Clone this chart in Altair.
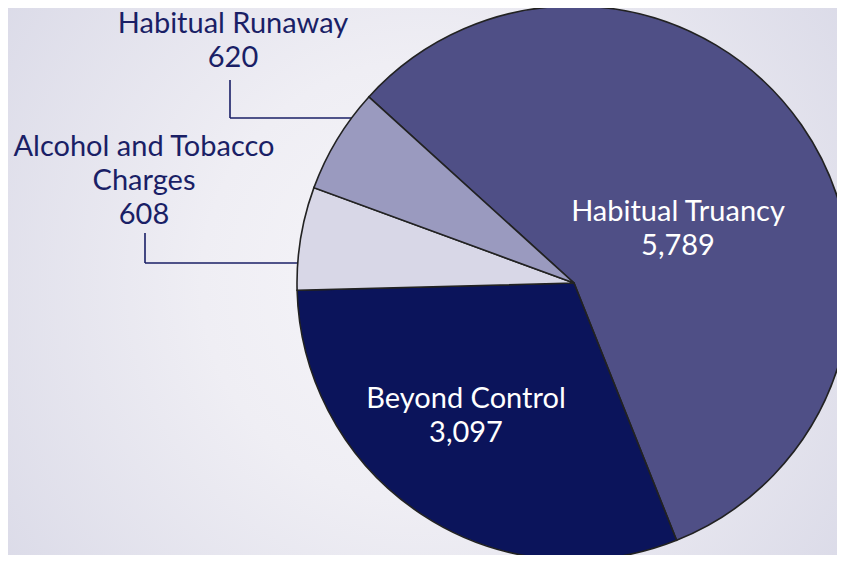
import altair as alt
import pandas as pd

categories = ["Habitual Truancy", "Beyond Control", "Alcohol and Tobacco Charges", "Habitual Runaway"]
values = [5789, 3097, 608, 620]
value_labels = ["5,789", "3,097", "608", "620"]
slice_colors = ["#4f4f86", "#0b145b", "#d8d7e7", "#9a9abf"]

W, H = 829, 547
CX, CY, R = 566, 275, 277
START = 5.449  # radians, clockwise from 12 o'clock
TAU = 6.283185307

df = pd.DataFrame({"category": categories, "value": values, "idx": list(range(len(values)))})

bg = alt.Chart(pd.DataFrame({"a": [0]})).mark_rect(
    fill={
        "gradient": "radial",
        "x1": 0.5, "y1": 0.5, "r1": 0,
        "x2": 0.5, "y2": 0.5, "r2": 0.7,
        "stops": [
            {"offset": 0, "color": "#f6f5f9"},
            {"offset": 0.38, "color": "#efeef4"},
            {"offset": 1, "color": "#d6d6e5"},
        ],
    }
).encode(x=alt.value(0), x2=alt.value(W), y=alt.value(0), y2=alt.value(H))

LINE = "#1a1f66"
leaders = [
    (222, 72, 222, 110), (222, 110, 350, 110),
    (137, 225, 137, 255), (137, 255, 300, 255),
]
rules = [
    alt.Chart(pd.DataFrame({"a": [0]})).mark_rule(color=LINE, strokeWidth=1.6).encode(
        x=alt.value(x1), y=alt.value(y1), x2=alt.value(x2), y2=alt.value(y2)
    )
    for (x1, y1, x2, y2) in leaders
]

pie = alt.Chart(df).mark_arc(outerRadius=R, stroke="#222222", strokeWidth=1.6).encode(
    theta=alt.Theta("value:Q", stack=True, scale=alt.Scale(range=[START, START + TAU])),
    order=alt.Order("idx:Q"),
    color=alt.Color("category:N", scale=alt.Scale(domain=categories, range=slice_colors), legend=None),
    x=alt.value(CX), y=alt.value(CY),
)

FONT = "Lato"
FS = 29
LH = 34
label_specs = [
    (0, 670, 213, "white"),
    (1, 458, 400, "white"),
    (2, 136, 148, LINE),
    (3, 225, 25, LINE),
]
texts = []
for i, x, y, col in label_specs:
    if categories[i].endswith("Charges"):
        lines = ["Alcohol and Tobacco", "Charges"]
    else:
        lines = [categories[i]]
    lines = lines + [value_labels[i]]
    texts.append(
        alt.Chart(pd.DataFrame({"a": [0]})).mark_text(
            text=lines, font=FONT, fontSize=FS, lineHeight=LH, color=col,
            align="center", baseline="alphabetic",
        ).encode(x=alt.value(x), y=alt.value(y))
    )

chart = alt.layer(bg, *rules, pie, *texts).properties(
    width=W, height=H, padding=0, autosize=alt.AutoSizeParams(type="none")
).configure_view(stroke=None)

chart.save("out.html", embed_options={"renderer": "svg", "actions": False})
